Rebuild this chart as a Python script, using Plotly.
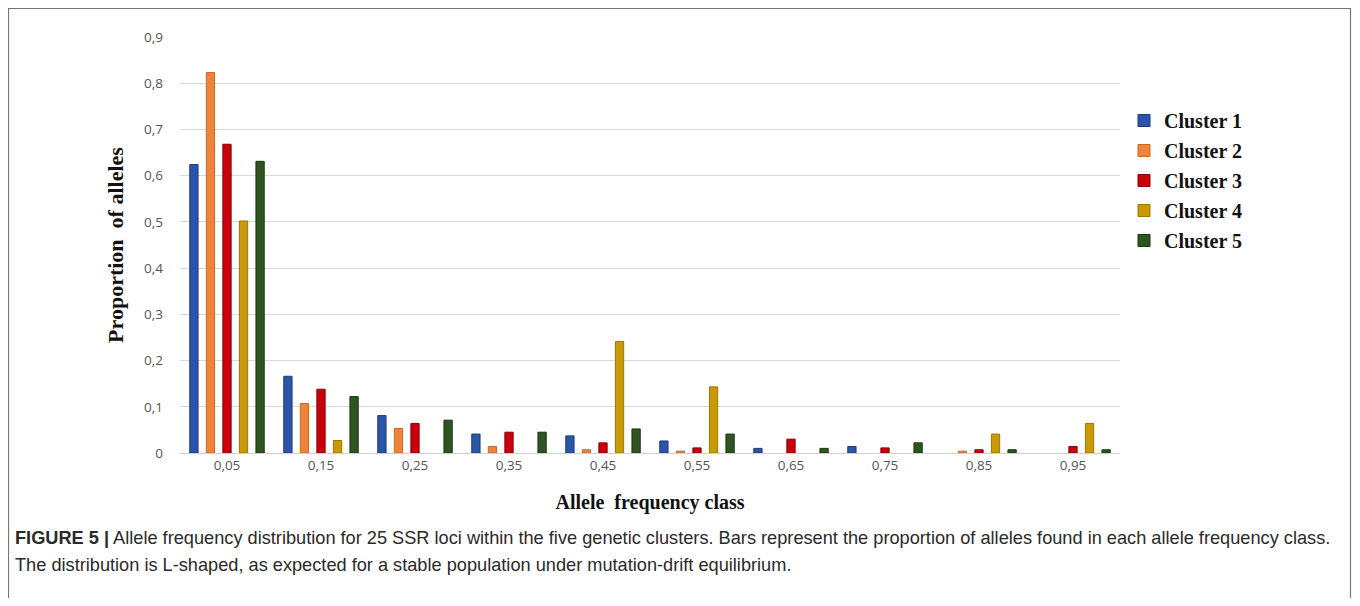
import plotly.graph_objects as go

categories = ["0,05", "0,15", "0,25", "0,35", "0,45", "0,55", "0,65", "0,75", "0,85", "0,95"]
cluster1 = [0.624, 0.166, 0.081, 0.041, 0.037, 0.026, 0.010, 0.014, None, None]
cluster2 = [0.823, 0.107, 0.053, 0.014, 0.007, 0.004, None, None, 0.004, None]
cluster3 = [0.668, 0.138, 0.064, 0.045, 0.022, 0.011, 0.030, 0.011, 0.007, 0.014]
cluster4 = [0.502, 0.027, None, None, 0.241, 0.143, None, None, 0.041, 0.064]
cluster5 = [0.631, 0.122, 0.071, 0.045, 0.052, 0.041, 0.010, 0.022, 0.007, 0.007]
series_names = ["Cluster 1", "Cluster 2", "Cluster 3", "Cluster 4", "Cluster 5"]
fill_colors = ["#2a55a8", "#ee8438", "#c8000c", "#c99a06", "#2e5420"]
line_colors = ["#1c3a78", "#c8682a", "#8a0008", "#9a7600", "#1c3512"]
y_ticks = [0, 0.1, 0.2, 0.3, 0.4, 0.5, 0.6, 0.7, 0.8, 0.9]

OFF = 8  # page body margin
W, H = 1360 - 2 * OFF, 606 - 2 * OFF
L, R, T = 180 - OFF, W - (1120 - OFF), 37 - OFF
B = H - (453 - OFF)
pw, ph = W - L - R, H - T - B

def px(x):
    return (x - OFF - L) / pw

def py(y):
    return (H - B - (y - OFF)) / ph

fig = go.Figure()
for name, vals, fc, lc in zip(series_names,
                              [cluster1, cluster2, cluster3, cluster4, cluster5],
                              fill_colors, line_colors):
    fig.add_trace(go.Bar(
        x=categories, y=vals, name="<b>" + name + "</b>", legendgroup=name,
        marker=dict(color=fc, line=dict(color=lc, width=1)),
    ))

serif = "Liberation Serif"
fig.update_layout(
    width=W, height=H,
    margin=dict(l=L, r=R, t=T, b=B),
    paper_bgcolor="white", plot_bgcolor="white",
    separators=", ",
    barmode="group", bargap=0.12, bargroupgap=0.5,
    showlegend=True,
    legend=dict(
        x=px(1124), y=py(101), xanchor="left", yanchor="top",
        font=dict(family=serif, size=20, color="#111111"),
        tracegroupgap=1, itemwidth=30,
        bgcolor="rgba(0,0,0,0)",
    ),
    xaxis=dict(
        type="category", showgrid=False, showline=True, linecolor="#cfcfcf",
        linewidth=1, ticks="", tickfont=dict(family="Open Sans", size=13.5, color="#555555"),
        title=dict(text="<b>Allele  frequency class</b>",
                   font=dict(family=serif, size=20, color="#111111"), standoff=21),
    ),
    yaxis=dict(
        range=[0, 0.9], tickvals=y_ticks, showgrid=True, gridcolor="#d9d9d9",
        zeroline=False, showline=False, ticks="", ticklabelstandoff=16,
        tickfont=dict(family="Open Sans", size=13.5, color="#555555"),
        title=dict(text="<b>Proportion  of alleles</b>",
                   font=dict(family=serif, size=22, color="#111111"), standoff=14),
    ),
)

# outer frame
fig.add_shape(type="rect", xref="paper", yref="paper",
              x0=px(8.5), x1=px(1350.5), y0=py(640), y1=py(8.5),
              line=dict(color="#777777", width=1.2), fillcolor="rgba(0,0,0,0)", layer="below")

cap_font = dict(family="Liberation Sans", size=18.2, color="#2a2a2a")
fig.add_annotation(xref="paper", yref="paper", x=px(13), y=py(538), xanchor="left", yanchor="middle",
                   showarrow=False, align="left", font=cap_font,
                   text="<b>FIGURE 5 |</b> Allele frequency distribution for 25 SSR loci within the five genetic clusters. "
                        "Bars represent the proportion of alleles found in each allele frequency class.")
fig.add_annotation(xref="paper", yref="paper", x=px(13), y=py(565), xanchor="left", yanchor="middle",
                   showarrow=False, align="left", font=cap_font,
                   text="The distribution is L-shaped, as expected for a stable population under mutation-drift equilibrium.")

fig.write_html("out.html")
